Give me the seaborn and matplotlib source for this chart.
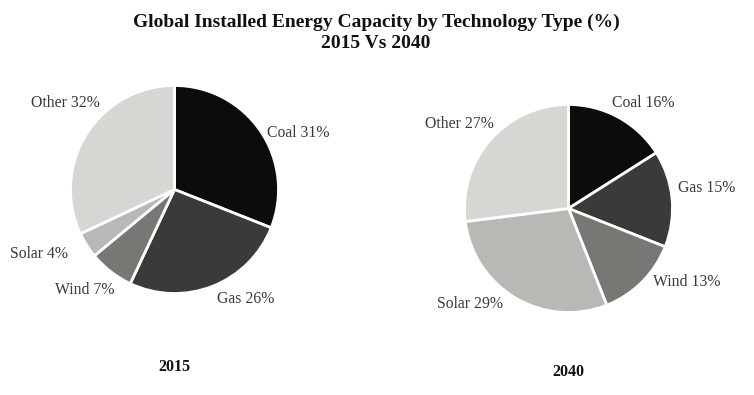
import matplotlib
matplotlib.use("Agg")
import matplotlib.pyplot as plt
import seaborn as sns

# ---- data ----
categories = ["Coal", "Gas", "Wind", "Solar", "Other"]
values_2015 = [31, 26, 7, 4, 32]
values_2040 = [16, 15, 13, 29, 27]
years = ["2015", "2040"]
title_text = "Global Installed Energy Capacity by Technology Type (%)\n2015 Vs 2040"

colors = ["#0c0d0b", "#3a3a39", "#767873", "#b8b8b4", "#d6d6d2"]

sns.set_theme(style="white")
plt.rcParams["font.family"] = ["Liberation Serif", "DejaVu Serif"]

W, H = 754, 395
fig = plt.figure(figsize=(W / 100, H / 100), dpi=100)
fig.patch.set_facecolor("white")

R = 104.0  # pie radius in px
LIM = 1.25

def make_ax(cx, cy):
    half = R * LIM
    return fig.add_axes([(cx - half) / W, (H - cy - half) / H, 2 * half / W, 2 * half / H])

# label positions (in pie radius units) and alignment
label_pos_2015 = [(0.888, 0.54, "left"), (0.41, -1.05, "left"), (-0.58, -0.97, "right"),
                  (-1.02, -0.62, "right"), (-0.72, 0.83, "right")]
label_pos_2040 = [(0.42, 1.01, "left"), (1.05, 0.20, "left"), (0.81, -0.71, "left"),
                  (-0.63, -0.92, "right"), (-0.72, 0.81, "right")]

def draw(ax, vals, lpos, year, year_y):
    ax.pie(vals, colors=colors, startangle=90, counterclock=False,
           wedgeprops=dict(edgecolor="white", linewidth=2))
    ax.set_xlim(-LIM, LIM)
    ax.set_ylim(-LIM, LIM)
    ax.set_aspect("equal")
    for cat, v, (x, y, ha) in zip(categories, vals, lpos):
        ax.text(x, y, f"{cat} {v}%", ha=ha, va="center", fontsize=11.3, color="#3a3a3a")
    ax.text(0, year_y, year, ha="center", va="center", fontsize=11.5, fontweight="bold",
            color="#111111")
    ax.axis("off")

ax1 = make_ax(174.5, 189.5)
draw(ax1, values_2015, label_pos_2015, years[0], -(367 - 189.5) / R)
ax2 = make_ax(568.5, 208.5)
draw(ax2, values_2040, label_pos_2040, years[1], -(372 - 208.5) / R)
for a in (ax1, ax2):
    for t in a.texts:
        t.set_clip_on(False)

fig.text(376 / W, 1 - 33 / H, title_text, ha="center", va="center", fontsize=14,
         fontweight="bold", color="#111111", linespacing=1.3)

fig.savefig("out.png", dpi=100)
